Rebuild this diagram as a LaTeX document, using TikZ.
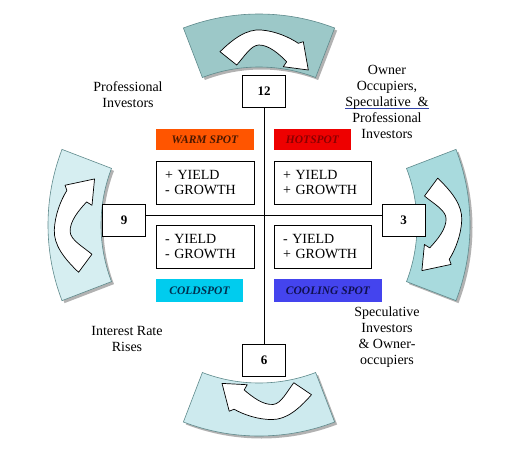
\documentclass[tikz,border=0pt]{standalone}
\usepackage{fontspec}
\setmainfont{Liberation Serif}
\usetikzlibrary{shadows}
\definecolor{bandtop}{HTML}{9CC8C8}
\definecolor{bandright}{HTML}{A8DADD}
\definecolor{bandbottom}{HTML}{CDEAEE}
\definecolor{bandleft}{HTML}{D6EEF1}
\definecolor{bandedge}{HTML}{5F8A8C}
\definecolor{warmfill}{HTML}{FF5500}
\definecolor{warmtext}{HTML}{4A1800}
\definecolor{hotfill}{HTML}{EE0000}
\definecolor{hottext}{HTML}{8A0000}
\definecolor{coldfill}{HTML}{00CCEE}
\definecolor{coldtext}{HTML}{003050}
\definecolor{coolfill}{HTML}{4444EE}
\definecolor{cooltext}{HTML}{101050}
\definecolor{ulblue}{HTML}{3344AA}
\newlength\ulw
\newcommand\ulblue[1]{\settowidth\ulw{#1}\rlap{\color{ulblue}\rule[-2.5pt]{\ulw}{0.7pt}}#1}

\begin{document}
\begin{tikzpicture}[
  x=1pt,
  y=1pt,
  every node/.style={font=\fontsize{14}{16}\selectfont},
  band/.style={draw=bandedge, line width=0.6pt,
    drop shadow={shadow xshift=2.5pt, shadow yshift=-2.5pt, fill=black, opacity=0.3}},
  turnarrow/.style={fill=white, draw=black, line width=0.7pt, line join=round},
  numbox/.style={draw, line width=0.6pt, fill=white, minimum width=43, minimum height=32,
    inner sep=0pt, font=\fontsize{13}{15}\selectfont\bfseries},
  quadbox/.style={draw, line width=0.6pt, minimum height=43, inner xsep=9pt, inner ysep=0pt,
    align=left, font=\fontsize{14}{15}\selectfont},
  spot/.style={minimum height=21, inner sep=0pt, font=\fontsize{11.5}{13}\selectfont\bfseries\itshape}
]
  \path[use as bounding box, fill=white] (0,0) rectangle (524,-474);

  \def\turnarrow{(-39,173.3) .. controls (-25,187) and (-12,196) .. (2,195)
    .. controls (16,194) and (30,188) .. (39.3,181.7) -- (44.3,183.3) -- (49.3,155)
    -- (24.3,158.3) -- (27.7,163.3) .. controls (20,171) and (10,180) .. (0,180)
    .. controls (-8,180) and (-15,168) .. (-22.3,160) -- cycle}

  \begin{scope}[shift={(259,-225)}]
    \foreach \ang/\col in {90/bandtop, 0/bandright, 270/bandbottom, 180/bandleft}
      \draw[band, fill=\col] ({\ang-21}:211) arc[start angle=\ang-21, end angle=\ang+21, radius=211]
        -- ({\ang+21}:158) arc[start angle=\ang+21, end angle=\ang-21, radius=158] -- cycle;

    \draw[turnarrow] \turnarrow;
    \draw[turnarrow, rotate=-88, scale=1.04] \turnarrow;
    \draw[turnarrow, rotate=184.5] \turnarrow;
    \draw[turnarrow, rotate=92, scale=1.05] \turnarrow;
  \end{scope}

  \coordinate (hub) at (264,-215);

  \node[numbox] (twelve) at (264,-91) {12};
  \node[numbox] (six) at (264,-360) {6};
  \node[numbox] (nine) at (124,-220) {9};
  \node[numbox] (three) at (403.5,-220) {3};

  \draw[line width=0.7pt] (twelve.south) -- (six.north);
  \draw[line width=0.7pt] (nine.east |- hub) -- (three.west |- hub);

  \node[spot, fill=warmfill, text=warmtext, minimum width=98] (warm) at (205,-139.5) {WARM SPOT};
  \node[spot, fill=hotfill, text=hottext, minimum width=77] (hot) at (312.5,-139.5) {HOTSPOT};
  \node[spot, fill=coldfill, text=coldtext, minimum width=87, minimum height=23] (cold) at (199.5,-290.5) {COLDSPOT};
  \node[spot, fill=coolfill, text=cooltext, minimum width=108, minimum height=23] (cooling) at (328,-290.5) {COOLING SPOT};

  \node[quadbox, text width=80] (warmquad) at (205,-182.5) {+ YIELD\\- GROWTH};
  \node[quadbox, text width=79] (hotquad) at (322.5,-182.5) {+ YIELD\\+ GROWTH};
  \node[quadbox, text width=80] (coldquad) at (205,-246.5) {- YIELD\\- GROWTH};
  \node[quadbox, text width=79] (coolquad) at (322.5,-246.5) {- YIELD\\+ GROWTH};

  \node[align=center] (profinv) at (128,-94.5) {Professional\\Investors};
  \node[align=center] (owners) at (387,-102) {Owner\\Occupiers,\\\ulblue{Speculative \ \&}\\Professional\\Investors};
  \node[align=center] (specinv) at (387,-337.5) {Speculative\\Investors\\\& Owner-\\occupiers};
  \node[align=center] (rates) at (127,-339) {Interest Rate\\Rises};
\end{tikzpicture}
\end{document}
